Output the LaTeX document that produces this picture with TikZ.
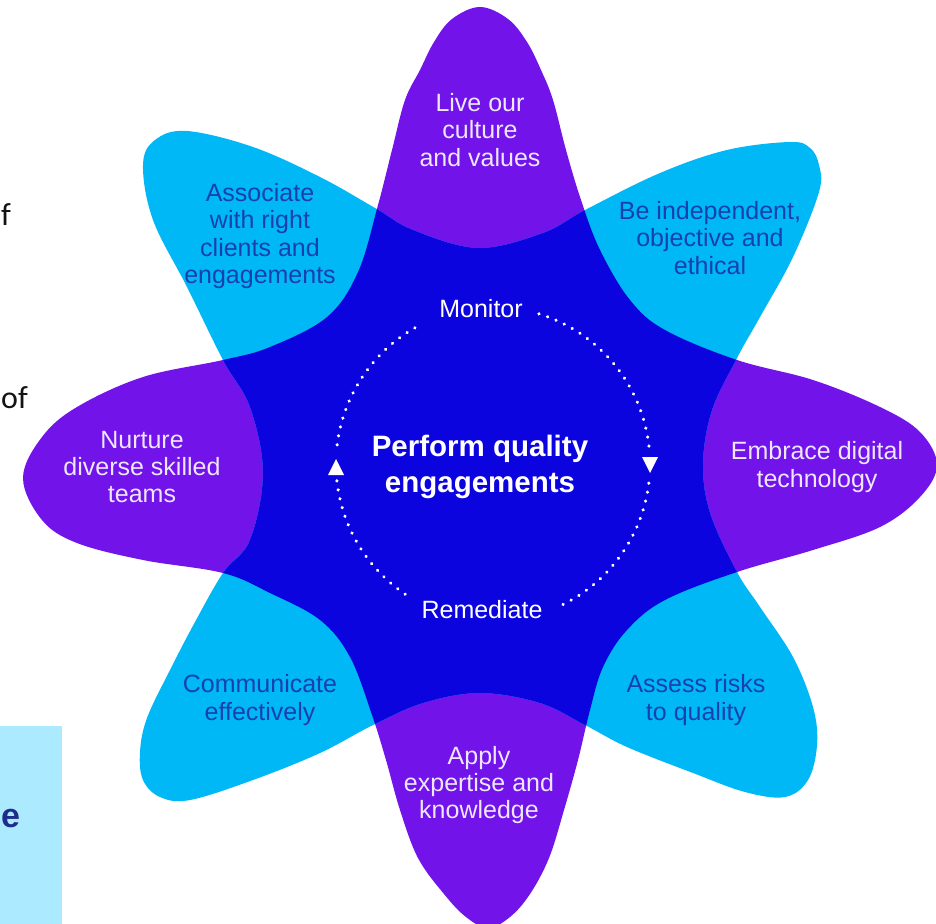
\documentclass[tikz,border=0pt]{standalone}
\usepackage{fontspec}
\setmainfont{Liberation Sans}
\newfontfamily\sidefont{Carlito}
\definecolor{kpurple}{RGB}{114,19,234}
\definecolor{klblue}{RGB}{0,184,245}
\definecolor{kdblue}{RGB}{12,4,222}
\definecolor{ktextblue}{RGB}{24,64,176}
\definecolor{klavender}{RGB}{238,230,255}
\definecolor{kbox}{RGB}{171,234,255}
\definecolor{knavy}{RGB}{30,45,140}
\definecolor{kblack}{RGB}{20,20,20}
\def\purpleshape{plot[smooth cycle, tension=0.6] coordinates {
(480,7) (508,19) (527,42) (541,70) (553,100) (566,150) (581,200) (600,250) (630,300)
(665,330) (737,360) (813,380) (880,407) (920,432) (937,465) (920,497) (880,527)
(813,550) (737,572) (665,600) (627,630) (603,667) (590,710) (578,760) (564,810)
(549,858) (530,894) (510,917) (488,928) (466,917) (444,894) (418,858) (400,810)
(386,760) (372,715) (350,657) (320,620) (270,593) (223,573) (143,560) (77,543)
(42,520) (23,478) (42,437) (77,407) (143,377) (223,360) (270,347) (327,317)
(358,272) (378,205) (392,150) (405,100) (420,70) (434,42) (452,19)}}
\def\blueshape{plot[smooth cycle, tension=0.6] coordinates {
(143,165) (155,140) (187,131) (253,147) (320,177) (375,208) (413,230) (478,248)
(543,233) (587,209) (660,173) (727,150) (790,142) (810,148) (819,165) (819,192)
(793,257) (760,317) (737,358) (712,410) (703,463) (710,513) (737,572) (760,607)
(793,657) (813,707) (817,745) (808,780) (785,797) (745,792) (693,773) (627,747)
(585,725) (540,703) (480,693) (423,703) (373,725) (320,753) (253,780) (190,800)
(160,797) (143,780) (140,752) (147,718) (170,670) (195,622) (223,573) (250,540)
(263,473) (250,407) (223,360) (187,287) (153,220)}}
\begin{document}
\begin{tikzpicture}[x=1pt,y=-1pt,
  petaltext/.style={align=center, font=\fontsize{25}{27.3}\selectfont, inner sep=0pt},
  ontext/.style={petaltext, text=klavender},
  bltext/.style={petaltext, text=ktextblue},
  cycletext/.style={font=\fontsize{25}{27}\selectfont, text=white, inner sep=0pt},
  dotline/.style={white, line width=3.4pt, line cap=round, dash pattern=on 0.1pt off 9pt},
  sidetext/.style={font=\sidefont\fontsize{32}{36}\selectfont, text=kblack, inner sep=0pt}]
\useasboundingbox (0,0) rectangle (936,923);
\fill[white] (0,0) rectangle (936,923);
% side fragments
\fill[kbox] (-10,726) rectangle (62,933);
\node[font=\bfseries\fontsize{34}{40}\selectfont, text=knavy, inner sep=0pt, anchor=base west] (frage) at (1,827) {e};
\node[sidetext, anchor=base west] (fragf) at (1,225) {f};
\node[sidetext, anchor=base west] (fragof) at (1,408) {of};
% flower
\fill[kpurple] \purpleshape;
\fill[klblue] \blueshape;
\begin{scope}
  \clip \purpleshape;
  \fill[kdblue] \blueshape;
\end{scope}
% cycle
\coordinate (cc) at (493,464);
\draw[dotline] (cc) ++(-73:157) arc[start angle=-73, end angle=-6, radius=157];
\draw[dotline] (cc) ++(7:157) arc[start angle=7, end angle=66, radius=157];
\draw[dotline] (cc) ++(124:157) arc[start angle=124, end angle=174, radius=157];
\draw[dotline] (cc) ++(187:157) arc[start angle=187, end angle=243, radius=157];
\fill[white] (642,457) -- (658,457) -- (650,473) -- cycle;
\fill[white] (328,475) -- (344,475) -- (336,459) -- cycle;
% texts
\node[ontext] (live) at (480,130) {Live our\\culture\\and values};
\node[bltext] (assoc) at (260,236) {Associate\\with right\\clients and\\engagements};
\node[bltext] (indep) at (710,238) {Be independent,\\objective and\\ethical};
\node[ontext] (nurture) at (142,467) {Nurture\\diverse skilled\\teams};
\node[ontext] (digital) at (817,467) {Embrace digital\\technology};
\node[bltext] (comm) at (260,700) {Communicate\\effectively};
\node[bltext] (risk) at (696,700) {Assess risks\\to quality};
\node[ontext] (apply) at (479,785) {Apply\\expertise and\\knowledge};
\node[cycletext] (monitor) at (481,309) {Monitor};
\node[cycletext] (remediate) at (482,610) {Remediate};
\node[font=\bfseries\fontsize{29.5}{36}\selectfont, align=center, text=white, inner sep=0pt] (perform) at (480,467) {Perform quality\\engagements};
\end{tikzpicture}
\end{document}
